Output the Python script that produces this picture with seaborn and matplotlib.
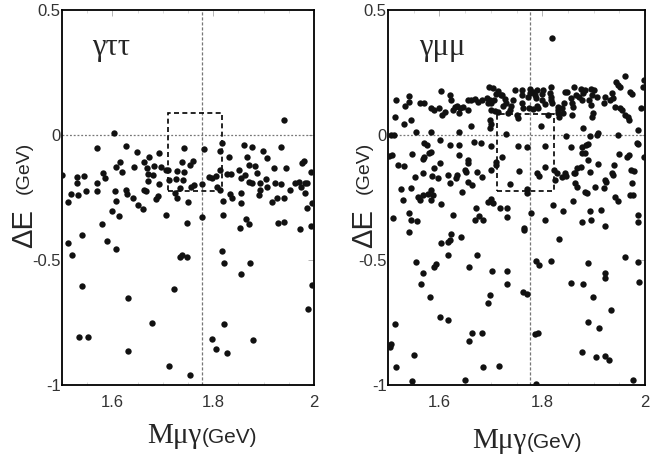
import matplotlib
matplotlib.use("Agg")
import matplotlib.pyplot as plt
import seaborn as sns
import pandas as pd
from matplotlib.patches import Rectangle
from matplotlib.ticker import MultipleLocator

# --- dados (M_mu_gamma em GeV, Delta E em GeV) ---
tt_mass = [1.94, 1.604, 1.569, 1.627, 1.648, 1.692, 1.673, 1.742, 1.781, 1.813, 1.818, 1.831,
           1.861, 1.876, 1.868, 1.899, 1.934, 1.906, 1.98, 1.976, 1.759, 1.754, 1.739, 1.615,
           1.607, 1.62, 1.643, 1.663, 1.668, 1.683, 1.697, 1.706, 1.67, 1.681, 1.729, 1.742,
           1.727, 1.741, 1.734, 1.756, 1.762, 1.777, 1.791, 1.805, 1.798, 1.808, 1.814, 1.827,
           1.836, 1.851, 1.856, 1.864, 1.872, 1.882, 1.886, 1.871, 1.877, 1.893, 1.904, 1.906,
           1.923, 1.92, 1.935, 1.944, 1.952, 1.962, 1.97, 1.975, 1.986, 1.995, 1.996, 1.986,
           1.5, 1.53, 1.544, 1.529, 1.517, 1.512, 1.532, 1.548, 1.569, 1.569, 1.582, 1.586,
           1.606, 1.608, 1.599, 1.613, 1.626, 1.628, 1.64, 1.65, 1.66, 1.662, 1.667, 1.686,
           1.69, 1.693, 1.707, 1.724, 1.728, 1.75, 1.777, 1.749, 1.58, 1.82, 1.819, 1.833,
           1.838, 1.855, 1.855, 1.853, 1.866, 1.871, 1.917, 1.926, 1.941, 1.929, 1.94, 1.972,
           1.994, 1.711, 1.712, 1.67, 1.813, 1.892, 1.89, 1.983, 1.983,
           1.511, 1.54, 1.519, 1.589, 1.607, 1.54, 1.631, 1.734, 1.739, 1.748, 1.722, 1.678,
           1.534, 1.552, 1.631, 1.713, 1.754, 1.818, 1.821, 1.874, 1.856, 1.996, 1.989, 1.822,
           1.797, 1.879, 1.805, 1.827]
tt_de = [0.06, 0.007, -0.05, -0.044, -0.067, -0.073, -0.089, -0.05, -0.057, -0.064, -0.031, -0.087,
         -0.041, -0.048, -0.089, -0.064, -0.049, -0.093, -0.103, -0.113, -0.104, -0.12, -0.109, -0.107,
         -0.129, -0.149, -0.127, -0.107, -0.131, -0.123, -0.129, -0.14, -0.156, -0.16, -0.143, -0.147,
         -0.177, -0.18, -0.213, -0.207, -0.2, -0.197, -0.167, -0.164, -0.172, -0.207, -0.14, -0.157,
         -0.157, -0.14, -0.173, -0.16, -0.12, -0.123, -0.153, -0.189, -0.191, -0.193, -0.177, -0.207,
         -0.191, -0.131, -0.196, -0.133, -0.22, -0.191, -0.187, -0.207, -0.193, -0.147, -0.273, -0.291,
         -0.16, -0.167, -0.163, -0.193, -0.236, -0.269, -0.24, -0.223, -0.193, -0.223, -0.153, -0.171,
         -0.223, -0.264, -0.303, -0.324, -0.22, -0.237, -0.253, -0.28, -0.296, -0.22, -0.224, -0.257,
         -0.243, -0.197, -0.32, -0.233, -0.253, -0.267, -0.327, -0.353, -0.357, -0.263, -0.32, -0.237,
         -0.253, -0.273, -0.233, -0.373, -0.336, -0.357, -0.269, -0.253, -0.253, -0.353, -0.349, -0.377,
         -0.363, -0.14, -0.18, -0.183, -0.218, -0.22, -0.24, -0.23, -0.19,
         -0.431, -0.401, -0.48, -0.425, -0.456, -0.603, -0.652, -0.489, -0.48, -0.489, -0.617, -0.752,
         -0.809, -0.809, -0.862, -0.923, -0.96, -0.463, -0.513, -0.511, -0.556, -0.599, -0.695, -0.756,
         -0.814, -0.819, -0.855, -0.873]

mm_mass = [1.82, 1.961, 1.943, 1.947, 1.952, 1.999, 1.997, 1.97, 1.975, 1.935, 1.937, 1.931,
           1.942, 1.952, 1.956, 1.961, 1.966, 1.968, 1.921, 1.923, 1.992, 1.987, 1.947, 1.987,
           1.968, 1.965, 1.95, 1.998, 1.973, 1.979, 1.94, 1.936, 1.938, 1.922, 1.908, 1.906,
           1.908, 1.893, 1.88, 1.886, 1.89, 1.877, 1.877, 1.883, 1.89, 1.899, 1.896, 1.895,
           1.901, 1.896, 1.891, 1.895, 1.906, 1.875, 1.883, 1.88, 1.862, 1.866, 1.872, 1.877,
           1.857, 1.858, 1.86, 1.844, 1.848, 1.843, 1.838, 1.84, 1.83, 1.83, 1.832, 1.858,
           1.846, 1.857, 1.867, 1.864, 1.844, 1.847, 1.839, 1.828, 1.825, 1.823, 1.817, 1.815,
           1.817, 1.818, 1.819, 1.802, 1.799, 1.799, 1.805, 1.789, 1.786, 1.788, 1.776, 1.782,
           1.773, 1.775, 1.789, 1.782, 1.792, 1.797, 1.812, 1.805, 1.79, 1.793, 1.805, 1.76,
           1.761, 1.76, 1.763, 1.747, 1.744, 1.74, 1.737, 1.734, 1.75, 1.752, 1.771, 1.752,
           1.755, 1.737, 1.771, 1.77, 1.727, 1.73, 1.724, 1.721, 1.714, 1.711, 1.706, 1.701,
           1.696, 1.705, 1.692, 1.698, 1.694, 1.701, 1.709, 1.714, 1.698, 1.701, 1.698, 1.729,
           1.701, 1.721, 1.711, 1.71, 1.7, 1.701, 1.695, 1.705, 1.717, 1.732, 1.731, 1.682,
           1.675, 1.669, 1.662, 1.656, 1.655, 1.64, 1.638, 1.646, 1.62, 1.622, 1.604, 1.627,
           1.63, 1.635, 1.61, 1.605, 1.599, 1.59, 1.583, 1.57, 1.562, 1.54, 1.54, 1.534,
           1.515, 1.514, 1.531, 1.545, 1.554, 1.584, 1.57, 1.575, 1.601, 1.62, 1.638, 1.638,
           1.638, 1.662, 1.667, 1.68, 1.505, 1.512, 1.508, 1.502, 1.519, 1.532, 1.547, 1.568,
           1.57, 1.583, 1.58, 1.601, 1.59, 1.568, 1.586, 1.552, 1.597, 1.617, 1.62, 1.634,
           1.633, 1.649, 1.652, 1.656, 1.655, 1.664, 1.656, 1.644, 1.674, 1.682, 1.525, 1.529,
           1.545, 1.558, 1.562, 1.568, 1.577, 1.584, 1.588, 1.584, 1.603, 1.54, 1.544, 1.51,
           1.556, 1.627, 1.672, 1.677, 1.669, 1.685, 1.779, 1.765, 1.821, 1.806, 1.841, 1.859,
           1.877, 1.893, 1.895, 1.914, 1.942, 1.948, 1.971, 1.977, 1.923, 1.987, 1.987, 1.92,
           1.903, 1.883, 1.887, 1.867, 1.861, 1.893, 1.875, 1.719, 1.83, 1.777, 1.984, 1.974,
           1.925, 1.863,
           1.541, 1.604, 1.617, 1.62, 1.623, 1.642, 1.617, 1.555, 1.568, 1.564, 1.581, 1.59,
           1.594, 1.658, 1.674, 1.703, 1.732, 1.732, 1.698, 1.694, 1.763, 1.771, 1.765, 1.833,
           1.788, 1.794, 1.817, 1.857, 1.88, 1.89, 1.922, 1.923, 1.961, 1.986, 1.989, 1.899,
           1.933, 1.89, 1.911, 1.601, 1.617, 1.514, 1.506, 1.503, 1.551, 1.515, 1.547, 1.649,
           1.685, 1.716, 1.657, 1.664, 1.682, 1.786, 1.791, 1.788, 1.877, 1.904, 1.923, 1.93,
           1.977]
mm_de = [0.389, 0.236, 0.213, 0.2, 0.193, 0.22, 0.193, 0.173, 0.163, 0.167, 0.147, 0.14,
         0.113, 0.107, 0.1, 0.08, 0.071, 0.06, 0.129, 0.153, 0.107, 0.02, 0.0, -0.037,
         -0.08, -0.087, -0.076, -0.087, -0.14, -0.143, -0.12, -0.153, -0.16, -0.18, -0.116, 0.0,
         0.008, -0.004, 0.027, -0.04, -0.035, -0.047, -0.073, -0.073, -0.1, 0.087, 0.073, 0.183,
         0.18, 0.16, 0.14, 0.12, 0.153, 0.183, 0.18, 0.169, 0.193, 0.16, 0.151, 0.14,
         0.147, 0.127, 0.113, 0.173, 0.173, 0.129, 0.107, 0.087, 0.113, 0.087, 0.073, 0.08,
         -0.004, -0.047, -0.133, -0.153, -0.151, -0.163, -0.167, -0.153, -0.18, -0.14, 0.193, 0.169,
         0.153, 0.14, 0.127, 0.18, 0.164, 0.14, 0.124, 0.18, 0.16, 0.147, 0.183, 0.173,
         0.151, 0.107, 0.116, 0.103, 0.107, 0.036, 0.08, -0.043, -0.153, -0.163, -0.127, 0.18,
         0.16, 0.127, 0.107, 0.18, 0.14, 0.116, 0.1, 0.087, 0.08, 0.067, -0.049, -0.043,
         -0.143, -0.197, -0.215, -0.233, 0.143, 0.129, 0.116, 0.16, 0.177, 0.164, 0.14, 0.127,
         0.193, 0.187, 0.147, 0.14, 0.127, 0.1, 0.097, 0.093, 0.06, 0.044, 0.027, 0.003,
         -0.043, -0.087, -0.107, -0.12, -0.14, -0.257, -0.267, -0.273, -0.293, -0.293, -0.327, 0.14,
         0.133, 0.143, 0.14, 0.14, 0.1, 0.107, 0.087, 0.113, 0.16, 0.14, 0.177, 0.1,
         0.111, 0.116, 0.093, 0.08, 0.107, 0.1, 0.107, 0.129, 0.127, 0.156, 0.133, 0.116,
         0.14, 0.073, 0.044, 0.06, 0.013, 0.013, -0.031, -0.04, -0.02, -0.04, 0.013, -0.04,
         -0.08, 0.036, -0.027, -0.033, 0.0, 0.0, -0.08, -0.085, -0.12, -0.123, -0.076, -0.097,
         -0.087, -0.067, -0.073, -0.113, -0.133, -0.153, -0.163, -0.167, -0.173, -0.16, -0.191, -0.16,
         -0.173, -0.14, -0.147, -0.1, -0.113, -0.2, -0.187, -0.227, -0.147, -0.167, -0.217, -0.26,
         -0.213, -0.247, -0.26, -0.24, -0.236, -0.22, -0.24, -0.26, -0.277, -0.313, -0.34, -0.333,
         -0.344, -0.319, -0.293, -0.324, -0.34, -0.34, -0.313, -0.371, -0.28, -0.34, -0.303, -0.264,
         -0.347, -0.303, -0.34, -0.299, -0.247, -0.264, -0.24, -0.24, -0.364, -0.32, -0.347, -0.213,
         -0.207, -0.227, -0.233, -0.207, -0.153, -0.147, -0.127, 0.16, 0.1, 0.167, -0.033, -0.193,
         -0.187, -0.193,
         -0.387, -0.433, -0.427, -0.42, -0.396, -0.409, -0.48, -0.509, -0.553, -0.596, -0.647, -0.527,
         -0.517, -0.527, -0.48, -0.544, -0.544, -0.596, -0.64, -0.671, -0.627, -0.636, -0.38, -0.416,
         -0.504, -0.52, -0.504, -0.593, -0.596, -0.513, -0.553, -0.573, -0.489, -0.509, -0.587, -0.647,
         -0.7, -0.747, -0.771, -0.729, -0.74, -0.757, -0.836, -0.847, -0.88, -0.929, -0.984, -0.98,
         -0.927, -0.924, -0.823, -0.793, -0.791, -0.796, -0.793, -0.996, -0.867, -0.889, -0.884, -0.9,
         -0.98]

massa_tau = 1.777
caixa_tt_mass = [1.710, 1.817]
caixa_tt_de = [-0.222, 0.089]
caixa_mm_mass = [1.712, 1.823]
caixa_mm_de = [-0.222, 0.083]

sns.set_style("white")
plt.rcParams['font.family'] = ['Liberation Sans', 'DejaVu Sans']

fig = plt.figure(figsize=(6.7, 4.61), dpi=100)
ax1 = fig.add_axes([62 / 670, 1 - 385 / 461, 252 / 670, 375 / 461])
ax2 = fig.add_axes([388 / 670, 1 - 385 / 461, 257 / 670, 375 / 461])

paineis = [
    (ax1, tt_mass, tt_de, caixa_tt_mass, caixa_tt_de, 'γττ'),
    (ax2, mm_mass, mm_de, caixa_mm_mass, caixa_mm_de, 'γμμ'),
]

for ax, massa, de, cx, cy, rotulo in paineis:
    df = pd.DataFrame({'massa': massa, 'de': de})

    # linhas de referência
    ax.axhline(0, color='#777777', lw=0.9, ls=(0, (1.5, 1.5)), zorder=1)
    ax.axvline(massa_tau, color='#777777', lw=0.9, ls=(0, (2.5, 1.5)), zorder=1)

    # caixa da região de sinal
    ax.add_patch(Rectangle((cx[0], cy[0]), cx[1] - cx[0], cy[1] - cy[0],
                           fill=False, ec='black', lw=1.2, ls=(0, (3, 2)), zorder=2))

    sns.scatterplot(data=df, x='massa', y='de', ax=ax, color='#111111',
                    s=21, linewidth=0, zorder=3, legend=False)

    ax.set_xlim(1.5, 2.0)
    ax.set_ylim(-1.0, 0.5)
    ax.set_xticks([1.6, 1.8, 2.0])
    ax.set_xticklabels(['1.6', '1.8', '2'])
    ax.set_yticks([0.5, 0, -0.5, -1])
    ax.set_yticklabels(['0.5', '0', '-0.5', '-1'])
    ax.xaxis.set_minor_locator(MultipleLocator(0.05))
    ax.tick_params(axis='both', which='major', direction='in', length=4, width=0.6,
                   color='#aaaaaa', labelsize=12, labelcolor='#333333', top=True, right=True)
    ax.tick_params(axis='x', which='major', pad=7)
    ax.tick_params(axis='y', which='major', pad=1)
    ax.tick_params(axis='x', which='minor', direction='in', length=2, width=0.5,
                   color='#cccccc', top=True, bottom=True)
    ax.set_xlabel('')
    ax.set_ylabel('')
    for lado in ax.spines.values():
        lado.set_color('black')
        lado.set_linewidth(1.3)

    ax.text(0.12, 0.9, rotulo, transform=ax.transAxes, fontsize=22,
            family=['Liberation Serif', 'DejaVu Serif'], ha='left', va='center')

# rótulos dos eixos
for xc, xl, yl in [(24, 201, 436), (364, 526, 441)]:
    fig.text(xc / 670, 1 - 228 / 461, 'ΔE', rotation=90, fontsize=21,
             ha='center', va='center')
    fig.text(xc / 670, 1 - 168 / 461, '(GeV)', rotation=90, fontsize=14,
             ha='center', va='center')
    fig.text(xl / 670, 1 - yl / 461, 'Mμγ', fontsize=21,
             family=['Liberation Serif', 'DejaVu Serif'], ha='right', va='center')
    fig.text((xl + 1) / 670, 1 - (yl + 1) / 461, '(GeV)', fontsize=15,
             ha='left', va='center')

fig.savefig('out.png', dpi=100)
plt.close(fig)
